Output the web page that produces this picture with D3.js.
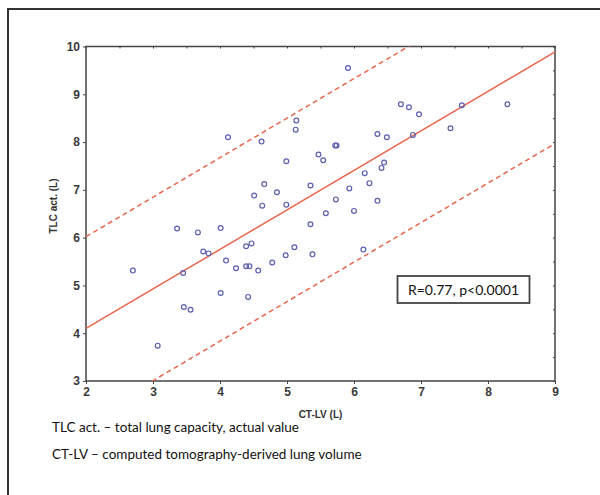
<!DOCTYPE html>
<html>
<head>
<meta charset="utf-8">
<script src="https://cdn.jsdelivr.net/npm/d3@7"></script>
<style>
  body { margin: 0; background: #fff; }
  svg { display: block; }
</style>
</head>
<body>
<script>
/* CT-LV (x) against actual TLC (y), one entry per patient */
const ctlv = [4.12, 4.62, 5.14, 5.13, 4.99, 5.47, 5.54, 5.72, 5.74, 4.66,
              4.51, 4.85, 4.63, 4.99, 5.35, 5.73, 5.58, 5.35, 3.36, 4.01,
              5.91, 6.70, 6.82, 6.97, 7.61, 8.29, 7.44, 6.35, 6.49, 6.88,
              6.45, 6.41, 6.16, 6.23, 5.93, 6.35, 6.00, 6.14, 3.67, 3.75,
              3.83, 4.39, 4.47, 5.11, 4.98, 5.38, 4.09, 4.24, 4.39, 4.44,
              4.57, 4.78, 2.70, 3.45, 4.01, 4.42, 3.46, 3.56, 3.07];
const tlc = [8.10, 8.01, 8.45, 8.26, 7.60, 7.74, 7.62, 7.93, 7.93, 7.12,
             6.88, 6.95, 6.67, 6.69, 7.09, 6.80, 6.51, 6.28, 6.19, 6.20,
             9.55, 8.79, 8.73, 8.58, 8.77, 8.79, 8.29, 8.17, 8.10, 8.15,
             7.57, 7.46, 7.35, 7.14, 7.03, 6.77, 6.56, 5.75, 6.11, 5.71,
             5.67, 5.82, 5.88, 5.80, 5.63, 5.65, 5.52, 5.36, 5.40, 5.40,
             5.31, 5.48, 5.31, 5.26, 4.84, 4.76, 4.55, 4.49, 3.74];

/* regression line and the band around it */
const regIntercept = 4.10;   // value at CT-LV = 2
const regSlope = 0.827;
const bandOffset = 1.92;

const xTicks = [2, 3, 4, 5, 6, 7, 8, 9];
const yTicks = [3, 4, 5, 6, 7, 8, 9, 10];
const statText = "R=0.77, p<0.0001";
const footnotes = ["TLC act. \u2013 total lung capacity, actual value",
                   "CT-LV \u2013 computed tomography-derived lung volume"];

let width = 600;
let height = 495;

let svg = d3.select("body")
    .append("svg")
    .attr("width", width)
    .attr("height", height)
    .style("background", "#fff");

/* outer frame, only top and left edges show */
svg.append("path")
    .attr("d", "M8,495 L8,9 L600,9")
    .attr("fill", "none")
    .attr("stroke", "#333")
    .attr("stroke-width", 2);

let plotLeft = 86, plotRight = 555, plotTop = 46.5, plotBottom = 381;

let xScale = d3.scaleLinear().domain([2, 9]).range([plotLeft, plotRight]);
let yScale = d3.scaleLinear().domain([3, 10]).range([plotBottom, plotTop]);

let tickFont = "'Liberation Sans', Arial, sans-serif";

/* axes */
svg.append("g")
    .attr("transform", "translate(0," + plotBottom + ")")
    .call(d3.axisBottom(xScale).tickValues(xTicks).tickSize(3).tickPadding(3).tickFormat(d3.format("d")));

svg.append("g")
    .attr("transform", "translate(" + plotLeft + ",0)")
    .call(d3.axisLeft(yScale).tickValues(yTicks).tickSize(3).tickPadding(3).tickFormat(d3.format("d")));

/* minor marks on top and right edges */
svg.append("g")
    .attr("transform", "translate(0," + plotTop + ")")
    .call(d3.axisBottom(xScale).tickValues(d3.range(2, 9.01, 0.5)).tickSize(2).tickFormat(""));
svg.append("g")
    .attr("transform", "translate(" + plotRight + ",0)")
    .call(d3.axisLeft(yScale).tickValues(d3.range(3, 10.01, 0.5)).tickSize(2).tickFormat(""));

svg.selectAll(".domain").remove();
svg.selectAll(".tick line").attr("stroke", "#444");
svg.selectAll(".tick text")
    .attr("fill", "#3a3a3a")
    .style("font-family", tickFont)
    .style("font-weight", "bold")
    .style("font-size", "12px");

/* plot box */
svg.append("rect")
    .attr("x", plotLeft)
    .attr("y", plotTop)
    .attr("width", plotRight - plotLeft)
    .attr("height", plotBottom - plotTop)
    .attr("fill", "none")
    .attr("stroke", "#444")
    .attr("stroke-width", 1.5);

/* axis titles */
svg.append("text")
    .attr("x", xScale(5.5))
    .attr("y", 418)
    .attr("text-anchor", "middle")
    .style("font-family", "'Liberation Sans Narrow', " + tickFont)
    .style("font-weight", "bold")
    .style("font-size", "10px")
    .attr("fill", "#333")
    .text("CT-LV (L)");

svg.append("text")
    .attr("transform", "translate(57,206) rotate(-90)")
    .attr("text-anchor", "middle")
    .style("font-family", "'Liberation Sans Narrow', " + tickFont)
    .style("font-weight", "bold")
    .style("font-size", "10px")
    .attr("fill", "#333")
    .text("TLC act. (L)");

/* lines clipped to the plot area */
svg.append("clipPath")
    .attr("id", "plotClip")
    .append("rect")
    .attr("x", plotLeft)
    .attr("y", plotTop)
    .attr("width", plotRight - plotLeft)
    .attr("height", plotBottom - plotTop);

let lineData = [
    { off: 0, dash: null },
    { off: bandOffset, dash: "5,3.5" },
    { off: -bandOffset, dash: "5,3.5" }
];

svg.append("g")
    .attr("clip-path", "url(#plotClip)")
    .selectAll("line")
    .data(lineData)
    .enter()
    .append("line")
    .attr("x1", xScale(2))
    .attr("y1", function(d) { return yScale(regIntercept + d.off); })
    .attr("x2", xScale(9))
    .attr("y2", function(d) { return yScale(regIntercept + regSlope * 7 + d.off); })
    .attr("stroke", "#e8664d")
    .attr("stroke-width", 1.5)
    .attr("stroke-dasharray", function(d) { return d.dash; });

/* data points as open circles */
svg.append("g")
    .selectAll("circle")
    .data(ctlv)
    .enter()
    .append("circle")
    .attr("cx", function(d) { return xScale(d); })
    .attr("cy", function(d, i) { return yScale(tlc[i]); })
    .attr("r", 2.4)
    .attr("fill", "none")
    .attr("stroke", "#5c5fb0")
    .attr("stroke-width", 1.2);

/* statistics box */
svg.append("rect")
    .attr("x", 397.5)
    .attr("y", 276)
    .attr("width", 132)
    .attr("height", 27)
    .attr("fill", "#fff")
    .attr("stroke", "#444")
    .attr("stroke-width", 1.8);

svg.append("text")
    .attr("x", 463.5)
    .attr("y", 294.5)
    .attr("text-anchor", "middle")
    .style("font-family", "Lato, 'Open Sans', sans-serif")
    .style("font-size", "14px")
    .attr("fill", "#111")
    .text(statText);

/* footnotes under the chart */
svg.selectAll("text.note")
    .data(footnotes)
    .enter()
    .append("text")
    .attr("class", "note")
    .attr("x", 52)
    .attr("y", function(d, i) { return 432 + i * 27; })
    .style("font-family", "Lato, 'Open Sans', sans-serif")
    .style("font-size", "13.5px")
    .attr("fill", "#111")
    .text(function(d) { return d; });
</script>
</body>
</html>
